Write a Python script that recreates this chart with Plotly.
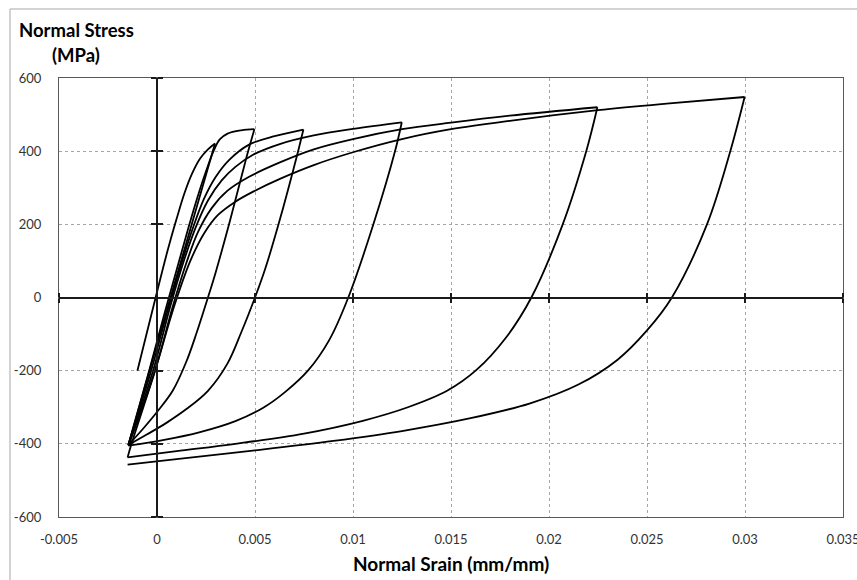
import plotly.graph_objects as go

# ---- axis ticks ----
strain_ticks = [-0.005, 0, 0.005, 0.01, 0.015, 0.02, 0.025, 0.03, 0.035]
strain_tick_text = ["-0.005", "0", "0.005", "0.01", "0.015", "0.02", "0.025", "0.03", "0.035"]
stress_ticks = [-600, -400, -200, 0, 200, 400, 600]
stress_tick_text = ["-600", "-400", "-200", "0", "200", "400", "600"]

# ---- hysteresis branches (strain in mm/mm, stress in MPa) ----
cycle1_load_strain = [-0.001, -0.00007, 0.0005, 0.001, 0.0014, 0.0018, 0.0022, 0.0026, 0.00296]
cycle1_load_stress = [-200, 0, 120, 215, 285, 340, 380, 405, 421]
cycle1_unload_strain = [0.00296, 0.0015, 0.0, -0.00146]
cycle1_unload_stress = [421, 150, -128, -403]

cycle2_load_strain = [-0.00146, -0.0004, 0.0004, 0.001, 0.0016, 0.0021, 0.0025, 0.0029, 0.0032, 0.0036, 0.0043, 0.00497]
cycle2_load_stress = [-403, -200, -40, 75, 190, 280, 345, 402, 432, 448, 457, 460]
cycle2_unload_strain = [0.00497, 0.0046, 0.0037, 0.003, 0.0026, 0.002, 0.0015, 0.0008, 0.0, -0.0007, -0.00146]
cycle2_unload_stress = [460, 390, 205, 70, 0, -100, -175, -255, -313, -358, -403]

cycle3_load_strain = [-0.00146, -0.0003, 0.0006, 0.0012, 0.0018, 0.0024, 0.003, 0.0037, 0.0047, 0.006, 0.00747]
cycle3_load_stress = [-403, -200, -25, 85, 185, 270, 330, 377, 418, 441, 459]
cycle3_unload_strain = [0.00747, 0.0072, 0.0062, 0.0055, 0.005, 0.0043, 0.0036, 0.0026, 0.0015, 0.0005, -0.0005, -0.00146]
cycle3_unload_stress = [459, 400, 200, 75, 0, -95, -180, -255, -305, -342, -374, -403]

cycle4_load_strain = [-0.00146, -0.0002, 0.0007, 0.0014, 0.002, 0.0026, 0.0033, 0.004, 0.0049, 0.0063, 0.008, 0.01, 0.01249]
cycle4_load_stress = [-403, -200, -20, 105, 195, 265, 320, 357, 390, 420, 443, 461, 479]
cycle4_unload_strain = [0.01249, 0.01215, 0.01104, 0.00976, 0.0088, 0.0077, 0.0065, 0.0054, 0.004, 0.0022, 0.0003, -0.00146]
cycle4_unload_stress = [479, 401, 200, 0, -115, -200, -260, -302, -338, -368, -390, -405]

cycle5_load_strain = [-0.00146, -0.0001, 0.0008, 0.0015, 0.0021, 0.0028, 0.0036, 0.0047, 0.0063, 0.008, 0.01, 0.0125, 0.015, 0.018, 0.02247]
cycle5_load_stress = [-405, -200, -25, 95, 180, 245, 292, 330, 370, 405, 433, 460, 478, 497, 520]
cycle5_unload_strain = [0.02247, 0.0219, 0.0207, 0.0191, 0.0178, 0.0163, 0.0148, 0.0128, 0.0105, 0.0075, 0.004, 0.001, -0.0015]
cycle5_unload_stress = [520, 400, 200, 0, -110, -198, -255, -300, -337, -372, -400, -420, -437]

cycle6_load_strain = [-0.0015, -0.0013, -0.0001, 0.0009, 0.0017, 0.0024, 0.0031, 0.004, 0.005, 0.0063, 0.008, 0.01, 0.0125, 0.015, 0.018, 0.0225, 0.026, 0.02998]
cycle6_load_stress = [-437, -400, -200, -20, 100, 175, 225, 262, 292, 325, 362, 397, 433, 460, 483, 512, 530, 548]
cycle6_unload_strain = [0.02998, 0.02925, 0.02806, 0.02627, 0.025, 0.0235, 0.0215, 0.019, 0.016, 0.0125, 0.009, 0.005, 0.001, -0.0015]
cycle6_unload_stress = [548, 400, 200, 0, -90, -170, -238, -290, -330, -365, -392, -418, -442, -457]

branches = [
    (cycle1_load_strain, cycle1_load_stress), (cycle1_unload_strain, cycle1_unload_stress),
    (cycle2_load_strain, cycle2_load_stress), (cycle2_unload_strain, cycle2_unload_stress),
    (cycle3_load_strain, cycle3_load_stress), (cycle3_unload_strain, cycle3_unload_stress),
    (cycle4_load_strain, cycle4_load_stress), (cycle4_unload_strain, cycle4_unload_stress),
    (cycle5_load_strain, cycle5_load_stress), (cycle5_unload_strain, cycle5_unload_stress),
    (cycle6_load_strain, cycle6_load_stress), (cycle6_unload_strain, cycle6_unload_stress),
]

X_RANGE = [-0.005, 0.035]
Y_RANGE = [-600, 600]
FONT = "Lato, 'Open Sans', sans-serif"

fig = go.Figure()
for xs, ys in branches:
    fig.add_trace(go.Scatter(
        x=xs, y=ys, mode="lines",
        line=dict(color="#000000", width=1.8, shape="spline", smoothing=1.0),
        showlegend=False, hoverinfo="skip",
    ))

# empty traces that attach the crossing axes through the origin
for xa, ya in [("x2", "y"), ("x3", "y"), ("x", "y2"), ("x", "y3")]:
    fig.add_trace(go.Scatter(x=[], y=[], xaxis=xa, yaxis=ya, showlegend=False, hoverinfo="skip"))

grid = dict(showgrid=True, gridcolor="#a6a6a6", gridwidth=1, griddash="3px,3px")
frame = dict(showline=True, mirror=True, linecolor="#595959", linewidth=1.2)

fig.update_layout(
    width=857, height=580,
    margin=dict(l=59, r=14, t=78, b=63),
    paper_bgcolor="white", plot_bgcolor="white",
    font=dict(family=FONT, size=13, color="#333333"),
    xaxis=dict(range=X_RANGE, tickvals=strain_ticks, ticktext=strain_tick_text,
               zeroline=False, ticks="", ticklabelstandoff=10, ticklabeloverflow="allow",
               automargin=False, **grid, **frame),
    yaxis=dict(range=Y_RANGE, tickvals=stress_ticks, ticktext=stress_tick_text,
               zeroline=False, ticks="", ticklabelstandoff=14, automargin=False, **grid, **frame),
)

cross_x = dict(overlaying="x", anchor="free", position=0.5, range=X_RANGE, tickvals=strain_ticks,
               showticklabels=False, showgrid=False, zeroline=False, showline=True,
               linecolor="#1a1a1a", linewidth=2, ticks="outside", ticklen=4, tickwidth=1.5,
               tickcolor="#1a1a1a", automargin=False)
zero_pos = (0 - X_RANGE[0]) / (X_RANGE[1] - X_RANGE[0])
cross_y = dict(overlaying="y", anchor="free", position=zero_pos, range=Y_RANGE, tickvals=stress_ticks,
               showticklabels=False, showgrid=False, zeroline=False, showline=True,
               linecolor="#1a1a1a", linewidth=2, ticks="outside", ticklen=5, tickwidth=1.5,
               tickcolor="#1a1a1a", automargin=False)
fig.update_layout(
    xaxis2=dict(side="bottom", **cross_x),
    xaxis3=dict(side="top", **cross_x),
    yaxis2=dict(side="left", **cross_y),
    yaxis3=dict(side="right", **cross_y),
)

fig.add_annotation(text="<b>Normal Stress</b>", xref="paper", yref="paper", x=0.0217, y=1.109,
                   xanchor="center", yanchor="middle", showarrow=False,
                   font=dict(family=FONT, size=18.5, color="#000000"))
fig.add_annotation(text="<b>(MPa)</b>", xref="paper", yref="paper", x=0.0217, y=1.052,
                   xanchor="center", yanchor="middle", showarrow=False,
                   font=dict(family=FONT, size=18.5, color="#000000"))
fig.add_annotation(text="<b>Normal Srain (mm/mm)</b>", xref="paper", yref="paper", x=0.5, y=-0.105,
                   xanchor="center", yanchor="middle", showarrow=False,
                   font=dict(family=FONT, size=19, color="#000000"))

# light chart-area border
fig.add_shape(type="line", xref="paper", yref="paper", x0=-0.0625, x1=1.05, y0=1.1572, y1=1.1572,
              line=dict(color="#c4c4c4", width=1.5))
fig.add_shape(type="line", xref="paper", yref="paper", x0=-0.0625, x1=-0.0625, y0=1.1572, y1=-0.2,
              line=dict(color="#c4c4c4", width=1.5))

fig.write_html("out.html")
